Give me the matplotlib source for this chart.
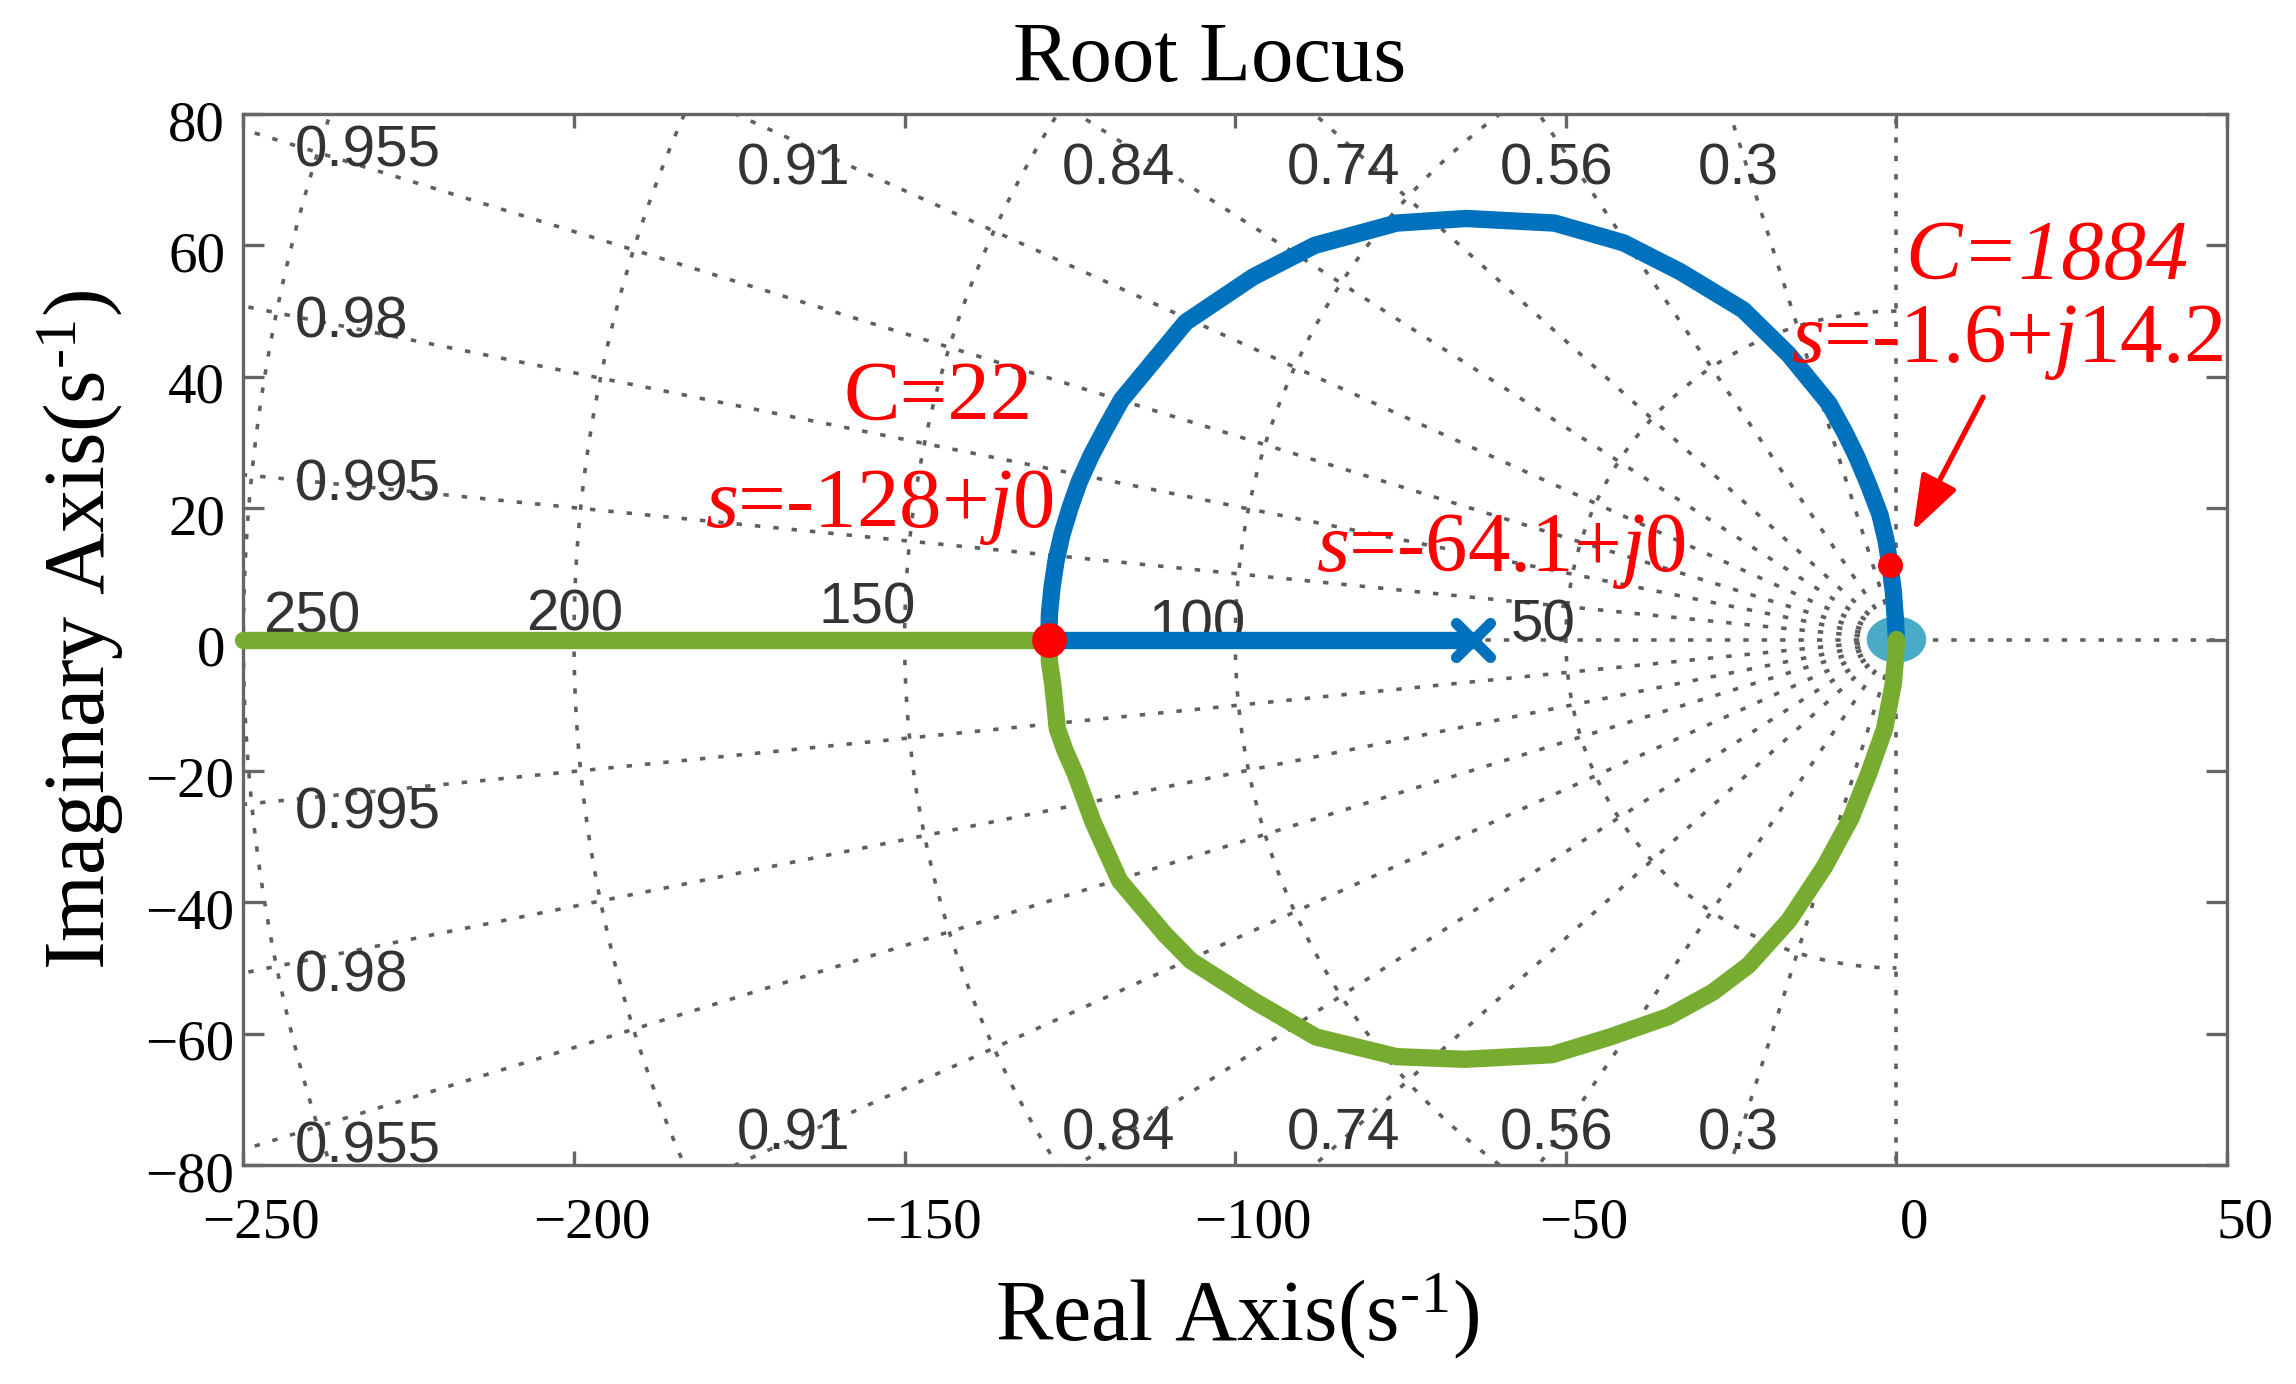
import numpy as np
import matplotlib
matplotlib.use('Agg')
from matplotlib import pyplot as plt
from matplotlib.patches import Ellipse
from matplotlib.markers import MarkerStyle
from matplotlib.transforms import blended_transform_factory, ScaledTranslation

plt.rcParams['font.family'] = 'Liberation Serif'
plt.rcParams['mathtext.fontset'] = 'custom'
plt.rcParams['mathtext.rm'] = 'Liberation Serif'
plt.rcParams['mathtext.it'] = 'Liberation Serif:italic'

# root locus branches (real part, imaginary part)
blue_real_x = [-64.1, -128.2]
blue_real_y = [0.0, 0.0]
blue_arc_x = [-128.2, -128.1, -127.7, -127.1, -126.2, -125.0, -123.6, -121.8, -119.7, -117.2,
              -107.5, -97.3, -88.0, -75.6, -65.1, -51.7, -41.3, -32.7, -23.2, -16.3,
              -10.2, -7.8, -6.0, -4.2, -2.5, -1.6, -1.0, -0.5, -0.2, 0.0]
blue_arc_y = [0.0, 4.0, 8.0, 12.0, 16.0, 20.0, 24.0, 28.0, 32.0, 36.5,
              48.3, 55.2, 60.0, 63.4, 64.1, 63.4, 60.4, 56.0, 50.2, 43.4,
              35.9, 31.5, 27.8, 23.5, 19.0, 15.2, 11.4, 7.5, 3.5, 0.0]

green_real_x = [-250.0, -128.2]
green_real_y = [0.0, 0.0]
green_arc_x = [-128.2, -128.1, -127.6, -126.9, -125.7, -124.2, -121.5, -117.5, -110.7, -106.7,
               -97.2, -87.8, -75.6, -65.3, -52.1, -43.3, -34.5, -27.8, -22.4, -16.3,
               -10.9, -6.9, -4.2, -3.0, -1.8, -0.5, -0.2, 0.0]
green_arc_y = [0.0, -3.4, -6.8, -13.6, -17.0, -20.4, -27.8, -36.7, -44.8, -48.9,
               -55.0, -60.5, -63.5, -63.9, -63.2, -60.5, -57.4, -53.7, -49.6, -42.8,
               -34.6, -27.2, -20.4, -17.0, -13.6, -6.8, -3.4, 0.0]

pole_x = [-64.1]
pole_y = [0.0]
zero_x = [0.0]
zero_y = [0.0]
# the two marked gain points C=22 and C=1884
mark_x = [-128.2, -1.0]
mark_y = [0.0, 11.4]

zeta_list = [0.3, 0.56, 0.74, 0.84, 0.91, 0.955, 0.98, 0.995]
wn_list = [50, 100, 150, 200, 250]
x_ticks = [-250, -200, -150, -100, -50, 0, 50]
y_ticks = [-80, -60, -40, -20, 0, 20, 40, 60, 80]

blue = '#0072bd'
green = '#77ac30'
gray = '#666666'

fig = plt.figure(figsize=(22.96, 13.84), dpi=100)
ax = fig.add_axes([0.106, 0.1582, 0.864, 0.7594])
ax.set_xlim(-250, 50)
ax.set_ylim(-80, 80)

# sgrid: damping rays and natural frequency circles
grid_kw = dict(color='#5f5f5f', lw=2.6, linestyle=(0, (1.5, 3.6)), zorder=1)
for z in zeta_list:
    dx = -z
    dy = np.sqrt(1 - z ** 2)
    ax.plot([0, 400 * dx], [0, 400 * dy], **grid_kw)
    ax.plot([0, 400 * dx], [0, -400 * dy], **grid_kw)
ax.plot([0, -400], [0, 0], **grid_kw)
ax.plot([0, 400], [0, 0], **grid_kw)
ax.plot([0, 0], [0, 400], **grid_kw)
ax.plot([0, 0], [0, -400], **grid_kw)
th = np.linspace(np.pi / 2, 3 * np.pi / 2, 300)
for wn in wn_list:
    ax.plot(wn * np.cos(th), wn * np.sin(th), **grid_kw)

lab_kw = dict(family='Liberation Sans', fontsize=42, color='#333333', zorder=2, va='baseline')
for z in zeta_list:
    slope = np.sqrt(1 - z ** 2) / z
    if 80 / slope < 250:
        xc = -76 / slope
        ax.text(xc, 72.5 - 3.2, f'{z:g}', ha='center', **lab_kw)
        ax.text(xc, -74.5 - 3.2, f'{z:g}', ha='center', **lab_kw)
    else:
        yc = 242.2 * slope
        ax.text(-242.2, yc - 3.2, f'{z:g}', ha='left', **lab_kw)
        ax.text(-242.2, -yc - 1.2 - 3.2, f'{z:g}', ha='left', **lab_kw)

wn_label_pos = [(-53.5, 3.0), (-105.8, 3.0), (-155.6, 5.6), (-199.9, 4.6), (-239.7, 4.3)]
for wn, (lx, ly) in zip(wn_list, wn_label_pos):
    ax.text(lx, ly - 3.2, str(wn), ha='center', **lab_kw)

# locus
lw = 12.5
ax.add_patch(Ellipse((zero_x[0], zero_y[0]), 8.8, 6.8, color='#4aabc6', zorder=3))
ax.plot(blue_real_x, blue_real_y, color=blue, lw=lw, solid_capstyle='round', zorder=4)
ax.plot(blue_arc_x, blue_arc_y, color=blue, lw=lw, solid_capstyle='butt', zorder=4)
ax.plot(green_real_x, green_real_y, color=green, lw=lw, solid_capstyle='round', zorder=5, clip_on=False)
ax.plot(green_arc_x, green_arc_y, color=green, lw=lw, solid_capstyle='round', zorder=5)
ax.plot(pole_x, pole_y, linestyle='none', marker=MarkerStyle('x', capstyle='round'),
        ms=24, mew=8, color=blue, zorder=6)
ax.plot(mark_x[:1], mark_y[:1], 'o', ms=25, color='red', mec='none', zorder=7)
ax.plot(mark_x[1:], mark_y[1:], 'o', ms=18, color='red', mec='none', zorder=7)

# annotations
txt_kw = dict(color='red', fontsize=61, ha='left', va='baseline', zorder=8)
ax.text(-159.2, 33.5, 'C=22', **txt_kw)
ax.text(-180.2, 17.2, r'$s$=-128+$j$0', **txt_kw)
ax.text(-87.8, 10.4, r'$s$=-64.1+$j$0', **txt_kw)
ax.text(1.4, 54.9, 'C=1884', fontstyle='italic', **txt_kw)
ax.text(-15.9, 42.2, r'$s$=-1.6+$j$14.2', clip_on=False, **txt_kw)
ax.annotate('', xy=(2.5, 16.5), xytext=(13.1, 36.9),
            arrowprops=dict(arrowstyle='-|>,head_length=1.7,head_width=0.6', mutation_scale=20,
                            lw=3.8, color='red', shrinkA=0, shrinkB=0), zorder=8)

# axes box and ticks
ax.set_xticks(x_ticks)
ax.set_yticks(y_ticks)
ax.tick_params(which='both', direction='in', top=True, right=True, labelbottom=False,
               labelleft=False, color=gray, width=2.4)
ax.tick_params(axis='x', length=10)
ax.tick_params(axis='y', length=15)
for sp in ax.spines.values():
    sp.set_color(gray)
    sp.set_linewidth(2.4)

xt = blended_transform_factory(ax.transData, ax.transAxes)
for v in x_ticks:
    ax.text(v, 0, str(v).replace('-', '\u2212'), fontsize=41, ha='center', va='baseline',
            transform=xt + ScaledTranslation(0.18, -0.726, fig.dpi_scale_trans), clip_on=False)
yt = blended_transform_factory(ax.transAxes, ax.transData)
for v in y_ticks:
    right = 225 if v >= 0 else 234
    ax.text(0, v, str(v).replace('-', '\u2212'), fontsize=41, ha='right', va='baseline',
            transform=yt + ScaledTranslation((right - 243.3) / 100, -0.26, fig.dpi_scale_trans),
            clip_on=False)

fig.text(1012.7 / 2296, 1 - 80.7 / 1384, 'Root Locus', fontsize=61, ha='left', va='baseline')
fig.text(994.6 / 2296, 1 - 1340 / 1384, r'Real Axis(s$^{\text{-1}}$)', fontsize=62,
         ha='left', va='baseline')
fig.text(105 / 2296, 1 - 970 / 1384, r'Imaginary Axis(s$^{\text{-1}}$)', fontsize=62,
         rotation=90, rotation_mode='anchor', ha='left', va='baseline')

fig.savefig('out.png', dpi=100)
